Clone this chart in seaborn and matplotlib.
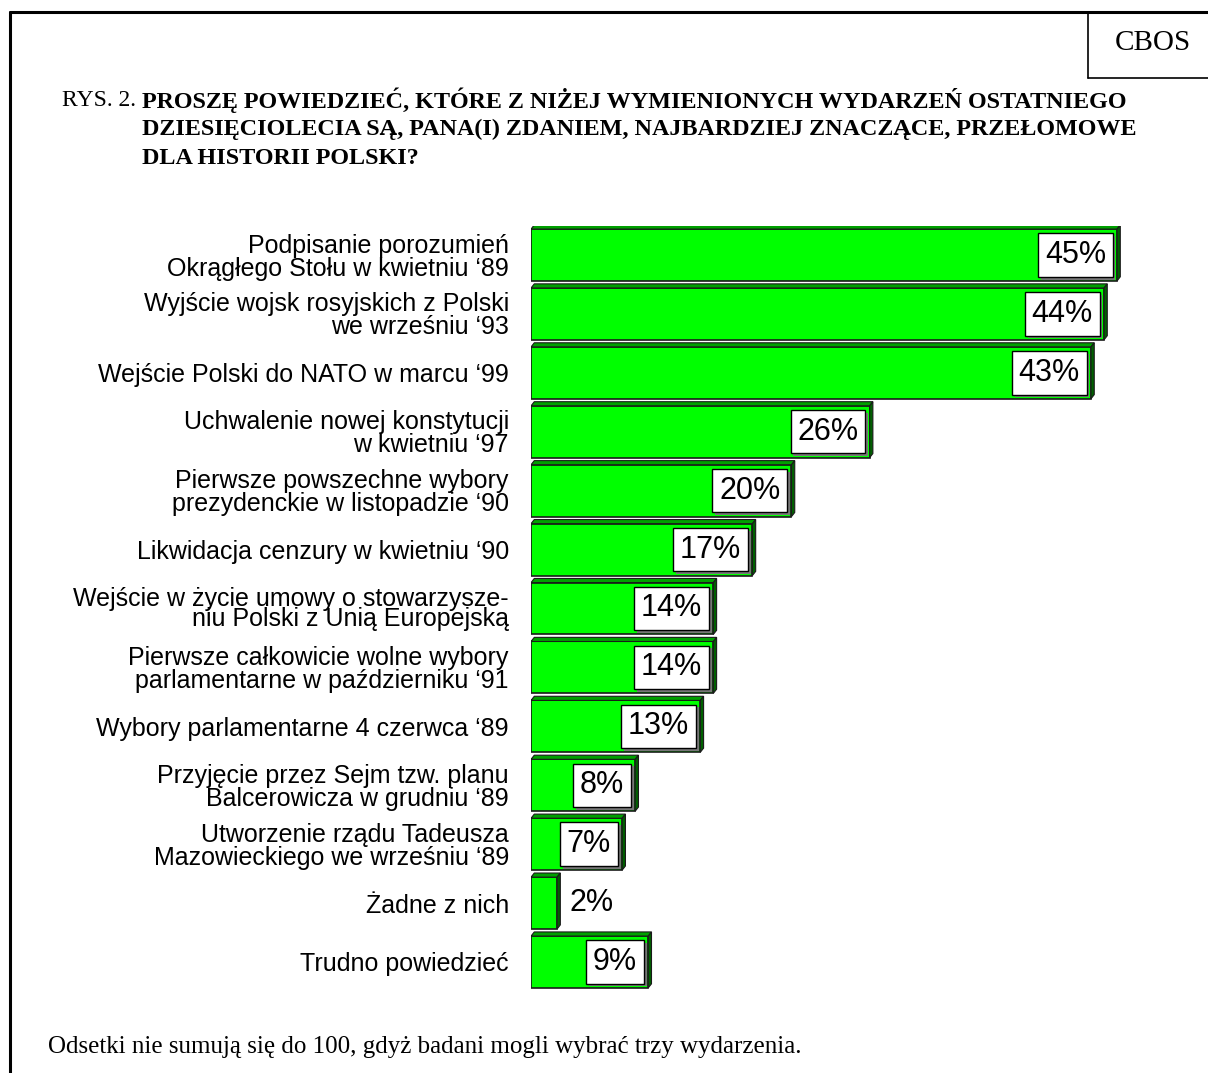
import pandas as pd
import matplotlib.pyplot as plt
import matplotlib.patheffects as pe
import seaborn as sns
from matplotlib.patches import Polygon
from matplotlib.lines import Line2D

# Dane
wydarzenia = [
    "Podpisanie porozumień\nOkrągłego Stołu w kwietniu ‘89",
    "Wyjście wojsk rosyjskich z Polski\nwe wrześniu ‘93",
    "Wejście Polski do NATO w marcu ‘99",
    "Uchwalenie nowej konstytucji\nw kwietniu ‘97",
    "Pierwsze powszechne wybory\nprezydenckie w listopadzie ‘90",
    "Likwidacja cenzury w kwietniu ‘90",
    "Wejście w życie umowy o stowarzysze-\nniu Polski z Unią Europejską",
    "Pierwsze całkowicie wolne wybory\nparlamentarne w październiku ‘91",
    "Wybory parlamentarne 4 czerwca ‘89",
    "Przyjęcie przez Sejm tzw. planu\nBalcerowicza w grudniu ‘89",
    "Utworzenie rządu Tadeusza\nMazowieckiego we wrześniu ‘89",
    "Żadne z nich",
    "Trudno powiedzieć",
]
procenty = [45, 44, 43, 26, 20, 17, 14, 14, 13, 8, 7, 2, 9]

tytul = ["PROSZĘ POWIEDZIEĆ, KTÓRE Z NIŻEJ WYMIENIONYCH WYDARZEŃ OSTATNIEGO",
         "DZIESIĘCIOLECIA SĄ, PANA(I) ZDANIEM, NAJBARDZIEJ ZNACZĄCE, PRZEŁOMOWE",
         "DLA HISTORII POLSKI?"]
przypis = "Odsetki nie sumują się do 100, gdyż badani mogli wybrać trzy wydarzenia."

df = pd.DataFrame({"wydarzenie": wydarzenia, "procent": procenty})

sns.set_style("white")
plt.rcParams['font.family'] = ['Liberation Sans', 'DejaVu Sans']
plt.rcParams['text.color'] = 'black'
plt.rcParams['ytick.color'] = 'black'

fig = plt.figure(figsize=(12.08, 10.73), dpi=100)
ax = fig.add_axes([0.4396, 0.0760, 0.539, 0.7138])

h = 0.88
sns.barplot(data=df, y="wydarzenie", x="procent", orient="h", color="#00ff00",
            saturation=1, width=h, edgecolor="#1a1a1a", linewidth=1.2, ax=ax)

# efekt 3D
dx, dy = 0.25, 0.07
for i, v in enumerate(procenty):
    top = i - h / 2
    bot = i + h / 2
    ax.add_patch(Polygon([(0, top), (v, top), (v + dx, top - dy), (dx, top - dy)],
                         closed=True, facecolor="#00a000", edgecolor="#1a1a1a", lw=0.8))
    ax.add_patch(Polygon([(v, top), (v + dx, top - dy), (v + dx, bot - dy), (v, bot)],
                         closed=True, facecolor="#006000", edgecolor="#1a1a1a", lw=0.8))

# etykiety wartości
for i, v in enumerate(procenty):
    if v < 5:
        ax.annotate(f"{v}%", (v, i), xytext=(9, 0), textcoords="offset points",
                    ha="left", va="center", fontsize=22)
    else:
        t = ax.annotate(f"{v}%", (v, i), xytext=(-8, 0), textcoords="offset points",
                        ha="right", va="center", fontsize=22,
                        bbox=dict(boxstyle="square,pad=0.22", facecolor="white",
                                  edgecolor="black", linewidth=1.0))
        t.get_bbox_patch().set_path_effects([
            pe.SimplePatchShadow(offset=(2, -2), shadow_rgbFace="#777777", alpha=1),
            pe.Normal()])

ax.set_xlim(0, 50)
ax.set_ylim(12.5, -0.5)
ax.set_xlabel("")
ax.set_ylabel("")
ax.set_xticks([])
sns.despine(ax=ax, left=True, bottom=True)
ax.tick_params(axis="y", length=0, pad=16)
for lab in ax.get_yticklabels():
    lab.set_fontsize(18)
    lab.set_linespacing(0.78 if "stowarzysze" in lab.get_text() else 0.95)
    lab.set_horizontalalignment("right")
    lab.set_color("black")

# tytuł
fig.text(62 / 1208, 1 - 100 / 1073, "RYS. 2.", family="Liberation Serif",
         fontsize=17, va="center", ha="left")
for k, linia in enumerate(tytul):
    fig.text(142 / 1208, 1 - (100 + 29 * k) / 1073, linia, family="Liberation Serif",
             fontsize=17.4, fontweight="bold", va="center", ha="left")

fig.text(48 / 1208, 1 - 1047 / 1073, przypis, family="Liberation Serif",
         fontsize=18, va="center", ha="left")

# ramka i CBOS
fig.add_artist(Line2D([10 / 1208, 1], [1 - 12 / 1073] * 2, color="black", lw=2.2,
                      transform=fig.transFigure))
fig.add_artist(Line2D([10 / 1208] * 2, [1 - 12 / 1073, 0], color="black", lw=2.2,
                      transform=fig.transFigure))
fig.add_artist(Line2D([1088 / 1208] * 2, [1 - 12 / 1073, 1 - 78 / 1073], color="black",
                      lw=1.2, transform=fig.transFigure))
fig.add_artist(Line2D([1088 / 1208, 1], [1 - 78 / 1073] * 2, color="black", lw=1.2,
                      transform=fig.transFigure))
fig.text(1153 / 1208, 1 - 43 / 1073, "CBOS", family="Liberation Serif", fontsize=21,
         va="center", ha="center")

fig.savefig("out.png", dpi=100)
